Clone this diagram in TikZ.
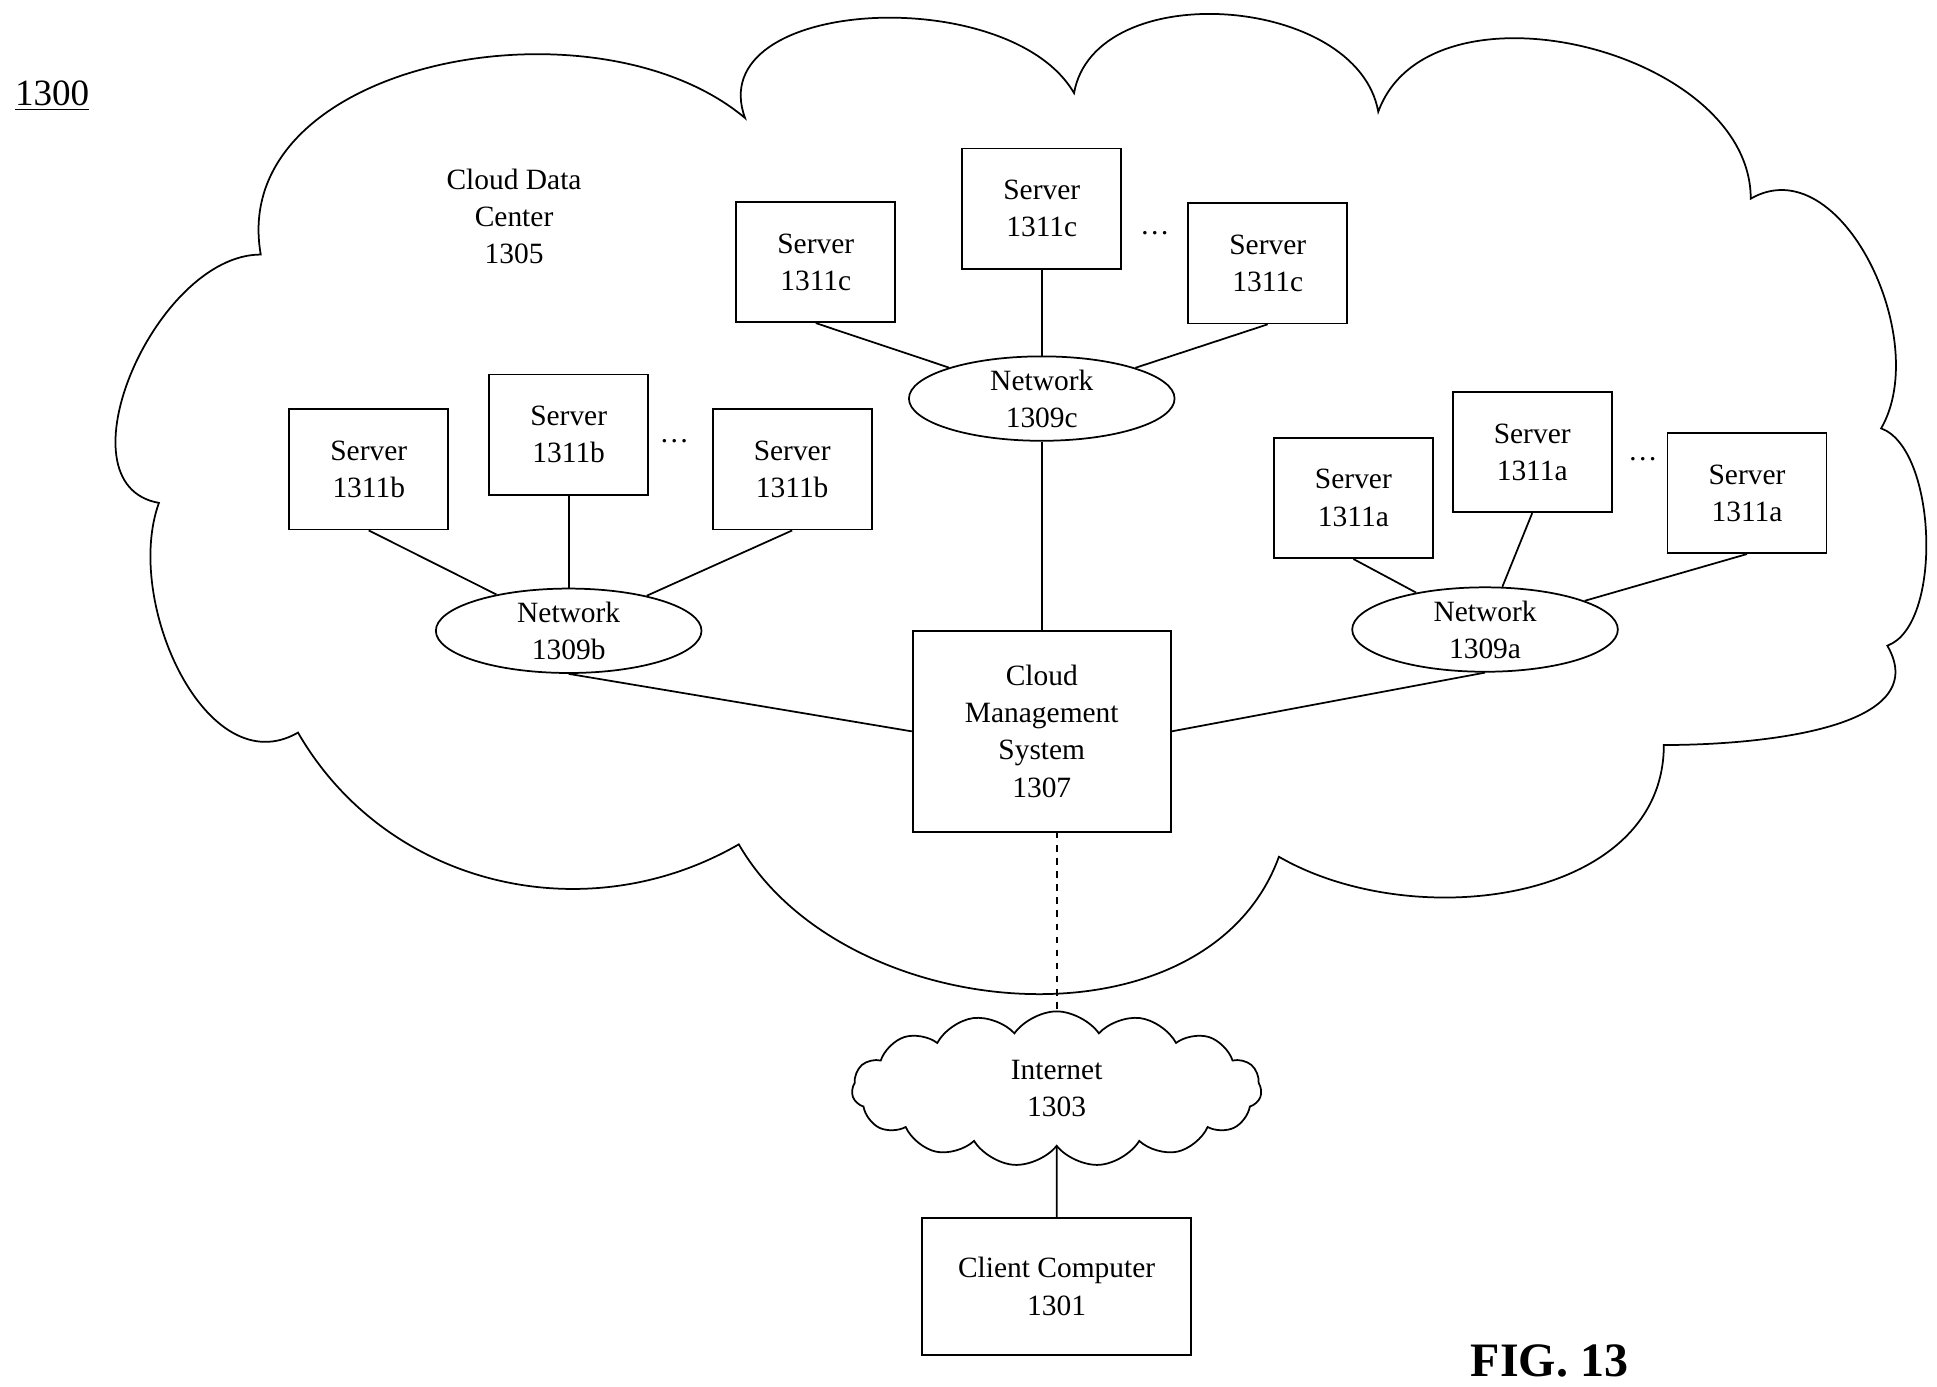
\documentclass[tikz,border=0pt]{standalone}
\usepackage{fontspec}
\setmainfont{Liberation Serif}
\usetikzlibrary{shapes.geometric,shapes.symbols}
\tikzset{
  box/.style={draw,thick,rectangle,align=center,minimum width=2.56cm,minimum height=1.94cm},
  net/.style={draw,thick,ellipse,align=center,minimum width=4.28cm,minimum height=1.36cm,inner sep=0pt},
  lnk/.style={thick}
}
\begin{document}
\begin{tikzpicture}[x=0.02cm,y=-0.02cm,font=\fontsize{13.5}{17}\selectfont]
\useasboundingbox (0,0) rectangle (1560,1117);
% data centre cloud
\draw[thick] (128,405) to[out=170,in=180] (210,205) to[out=100,in=140] (600,95)
  to[out=110,in=120] (865,75) to[out=80,in=100] (1110,90) to[out=70,in=90] (1410,160)
  to[out=30,in=60] (1515,345) to[out=-20,in=20,looseness=0.7] (1520,520) to[out=-60,in=0] (1340,600)
  to[out=-90,in=-30] (1030,690) to[out=-110,in=-60] (595,680) to[out=-150,in=-60] (240,590)
  to[out=-150,in=-110] cycle;
\node[font=\fontsize{17}{20}\selectfont] (t1300) at (42,77) {\underline{1300}};
\node[align=center] (cdc) at (414,174) {Cloud Data\\Center\\1305};
% central
\node[box,minimum width=4.16cm,minimum height=3.24cm] (cms) at (839,589) {Cloud\\Management\\System\\1307};
\node[net] (nc) at (839,321) {Network\\1309c};
\node[net] (nb) at (458,508) {Network\\1309b};
\node[net] (na) at (1196,507) {Network\\1309a};
% servers c
\node[box] (sc1) at (657,211) {Server\\1311c};
\node[box] (sc2) at (839,168) {Server\\1311c};
\node[box] (sc3) at (1021,212) {Server\\1311c};
\node (dc) at (930,188) {\dots};
% servers b
\node[box] (sb1) at (297,378) {Server\\1311b};
\node[box] (sb2) at (458,350) {Server\\1311b};
\node[box] (sb3) at (638,378) {Server\\1311b};
\node (db) at (543,355) {\dots};
% servers a
\node[box] (sa1) at (1090,401) {Server\\1311a};
\node[box] (sa2) at (1234,364) {Server\\1311a};
\node[box] (sa3) at (1407,397) {Server\\1311a};
\node (da) at (1323,370) {\dots};
% internet and client
\node[draw,thick,cloud,cloud puffs=15,cloud puff arc=110,aspect=2.6,minimum width=6.6cm,minimum height=2.5cm,align=center] (inet) at (851,877) {Internet\\1303};
\node[box,minimum width=4.34cm,minimum height=2.2cm] (cc) at (851,1036) {Client Computer\\1301};
\node[font=\fontsize{22}{26}\selectfont\bfseries] (fig) at (1248,1096) {FIG. 13};
% links
\foreach \s in {sc1,sc2,sc3} \draw[lnk] (\s.south) -- (nc);
\foreach \s in {sb1,sb2,sb3} \draw[lnk] (\s.south) -- (nb);
\foreach \s in {sa1,sa2,sa3} \draw[lnk] (\s.south) -- (na);
\draw[lnk] (nc) -- (cms);
\draw[lnk] (nb.south) -- (cms.west);
\draw[lnk] (na.south) -- (cms.east);
\coordinate (cmsd) at (851,670);
\draw[lnk,dashed] (cmsd) -- (inet.north);
\draw[lnk] (inet.south) -- (cc);
\end{tikzpicture}
\end{document}
